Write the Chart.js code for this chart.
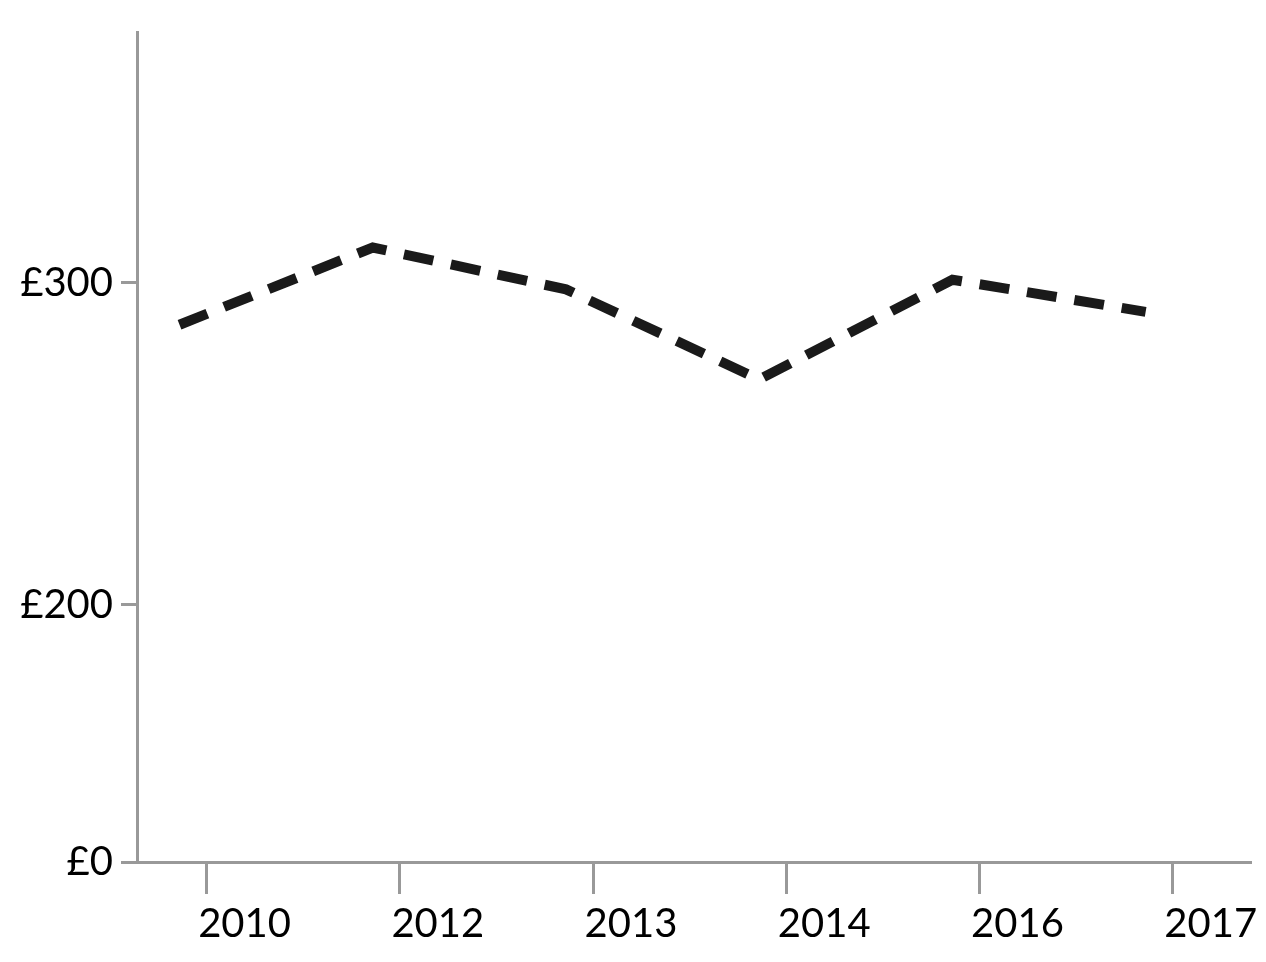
<!DOCTYPE html>
<html>
<head>
<script src="https://cdn.jsdelivr.net/npm/chart.js@4"></script>
<style>
  body { margin: 0; background: #fff; }
  #wrap { width: 1266px; height: 962px; }
</style>
</head>
<body>
<div id="wrap"><canvas id="c"></canvas></div>
<script>
const years = ['2010', '2012', '2013', '2014', '2016', '2017'];
const prices = [287, 311, 298, 270, 301, 291];
const yTicks = [120, 200, 300];
const yLabels = { 120: '£0', 200: '£200', 300: '£300' };

const ctx = document.getElementById('c').getContext('2d');
new Chart(ctx, {
  type: 'line',
  data: {
    datasets: [{
      data: prices.map((p, i) => ({ x: i - 0.14, y: p })),
      borderColor: '#1a1a1a',
      borderWidth: 10,
      borderDash: [30, 18],
      pointRadius: 0,
      tension: 0,
      fill: false
    }]
  },
  options: {
    responsive: true,
    maintainAspectRatio: false,
    animation: false,
    layout: { padding: { top: -18, right: 16, bottom: 8, left: 0 } },
    plugins: { legend: { display: false }, tooltip: { enabled: false } },
    scales: {
      x: {
        type: 'linear',
        min: -0.36,
        max: 5.4,
        afterBuildTicks: axis => { axis.ticks = years.map((_, i) => ({ value: i })); },
        ticks: {
          callback: v => years[v],
          color: '#000',
          font: { family: 'Lato', size: 40 },
          padding: 6,
          labelOffset: 38,
          maxRotation: 0
        },
        grid: { drawOnChartArea: false, drawTicks: true, tickLength: 32, color: '#999', lineWidth: 3 },
        border: { color: '#999', width: 3 }
      },
      y: {
        min: 120,
        max: 378,
        afterFit: axis => { axis.width = 137; },
        afterBuildTicks: axis => { axis.ticks = yTicks.map(v => ({ value: v })); },
        ticks: {
          callback: v => yLabels[v],
          color: '#000',
          font: { family: 'Lato', size: 40 },
          padding: 8
        },
        grid: { drawOnChartArea: false, drawTicks: true, tickLength: 16, color: '#999', lineWidth: 3 },
        border: { color: '#999', width: 3 }
      }
    }
  }
});
</script>
</body>
</html>
